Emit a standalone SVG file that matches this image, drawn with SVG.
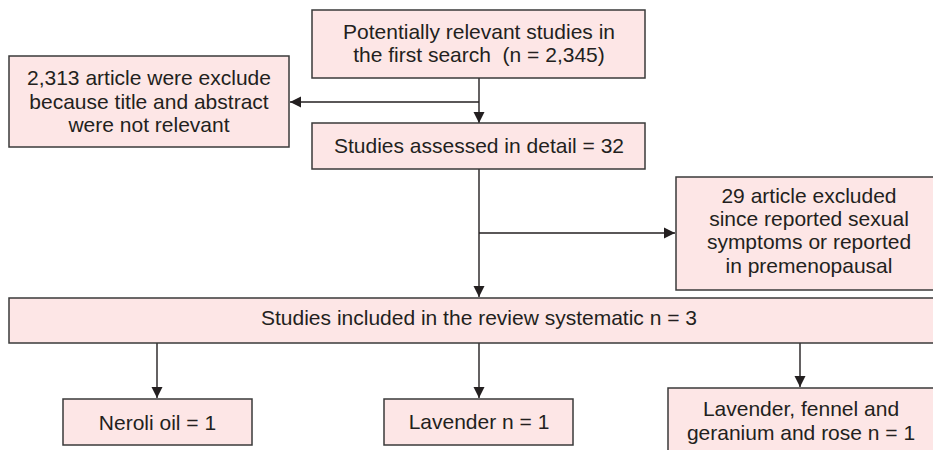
<svg xmlns="http://www.w3.org/2000/svg" width="933" height="450" viewBox="0 0 933 450">
<style>
  .box rect { fill: #fde6e6; stroke: #3a3a3a; stroke-width: 1.5; }
  text { font-family: "Liberation Sans", Arial, sans-serif; font-size: 21px; fill: #231f20; text-anchor: middle; }
  .conn path { fill: none; stroke: #231f20; stroke-width: 1.4; marker-end: url(#arr); }
</style>
<defs>
  <marker id="arr" markerUnits="userSpaceOnUse" markerWidth="12" markerHeight="12" refX="11" refY="6" orient="auto">
    <path d="M0,0.5 L11,6 L0,11.5 z" fill="#231f20"/>
  </marker>
</defs>
<rect width="933" height="450" fill="#ffffff"/>
<g class="conn">
  <path d="M479,78 V123"/>
  <path d="M479,102 H290"/>
  <path d="M479,169 V297"/>
  <path d="M479,233 H675"/>
  <path d="M157,343 V398"/>
  <path d="M479,343 V398"/>
  <path d="M800,343 V387"/>
</g>
<g id="n1" class="box">
  <rect x="312" y="10" width="333" height="68"/>
  <text x="479" y="38.5">Potentially relevant studies in</text>
  <text x="479" y="62">the first search &#160;(n = 2,345)</text>
</g>
<g id="n2" class="box">
  <rect x="9" y="56" width="280" height="91"/>
  <text x="149" y="85">2,313 article were exclude</text>
  <text x="149" y="108.5">because title and abstract</text>
  <text x="149" y="132">were not relevant</text>
</g>
<g id="n3" class="box">
  <rect x="312" y="123" width="333" height="46"/>
  <text x="479" y="153">Studies assessed in detail = 32</text>
</g>
<g id="n4" class="box">
  <rect x="676" y="177" width="266" height="113"/>
  <text x="809" y="203">29 article excluded</text>
  <text x="809" y="226">since reported sexual</text>
  <text x="809" y="249">symptoms or reported</text>
  <text x="809" y="273">in premenopausal</text>
</g>
<g id="n5" class="box">
  <rect x="9" y="298" width="940" height="45"/>
  <text x="479" y="325">Studies included in the review systematic n = 3</text>
</g>
<g id="n6" class="box">
  <rect x="63" y="399" width="189" height="46"/>
  <text x="157.5" y="430">Neroli oil = 1</text>
</g>
<g id="n7" class="box">
  <rect x="384" y="399" width="189" height="46"/>
  <text x="479" y="429">Lavender n = 1</text>
</g>
<g id="n8" class="box">
  <rect x="668" y="388" width="266" height="70"/>
  <text x="801" y="416">Lavender, fennel and</text>
  <text x="801" y="440">geranium and rose n = 1</text>
</g>
</svg>
